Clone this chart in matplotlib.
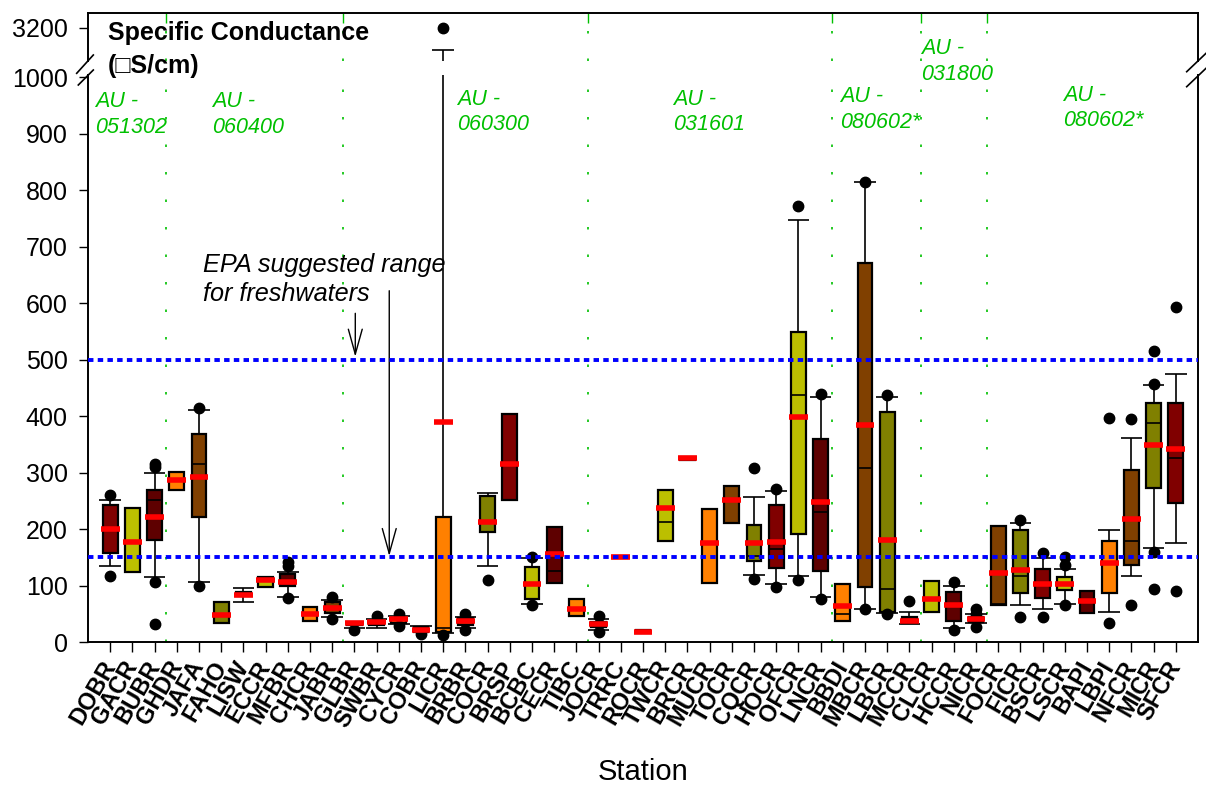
import matplotlib
matplotlib.use('Agg')
import matplotlib.pyplot as plt
from matplotlib.patches import Rectangle
from matplotlib.lines import Line2D

plt.rcParams['font.family'] = ['Liberation Sans', 'DejaVu Sans']

# station order along the x axis
stations = ['DOBR', 'GACR', 'BUBR', 'GHDR', 'JAFA', 'FAHO', 'LISW', 'ECCR', 'MFBR', 'CHCR',
            'JABR', 'GLBR', 'SWBR', 'CYCR', 'COBR', 'LICR', 'BRBR', 'COCR', 'BRSP', 'BCBC',
            'CECR', 'TIBC', 'JOCR', 'TRRC', 'ROCR', 'TWCR', 'BRCR', 'MUCR', 'TOCR', 'CQCR',
            'HOCR', 'OFCR', 'LNCR', 'BBDI', 'MBCR', 'LBCR', 'MCCR', 'CLCR', 'HCCR', 'NICR',
            'FOCR', 'FICR', 'BSCR', 'LSCR', 'BAPI', 'LBPI', 'NFCR', 'MICR', 'SFCR']

# box statistics (uS/cm)
q1 = [158, 124, 180, 270, 221, 34, 81, 97, 99, 37,
      51, 30, 30, 33, 18, 18, 30, 194, 252, 76,
      105, 46, 27, 149, 16, 179, 323, 104, 211, 143,
      131, 191, 125, 37, 97, 53, 33, 54, 37, 36,
      65, 86, 78, 92, 52, 87, 136, 272, 247]
q3 = [242, 237, 269, 301, 369, 71, 88, 115, 120, 62,
      71, 35, 38, 43, 26, 221, 42, 258, 403, 133,
      204, 76, 36, 152, 21, 270, 327, 235, 276, 207,
      243, 549, 360, 102, 671, 407, 44, 108, 89, 45,
      205, 199, 130, 115, 90, 179, 305, 423, 423]
medians = [None, None, 251, None, 315, None, None, None, None, None,
           None, None, None, None, None, 25, None, None, None, None,
           125, None, None, None, None, 212, None, None, None, 152,
           165, 437, 231, 50, 308, 93, None, None, None, None,
           67, 117, None, None, None, None, 178, 388, 325]
means = [200, 177, 222, 287, 292, 48, 84, 109, 107, 50,
         60, 33, 35, 40, 22, 389, 37, 212, 315, 102,
         156, 59, 31, 150, 18, 238, 325, 175, 252, 175,
         177, 398, 248, 63, 385, 180, 38, 77, 66, 41,
         123, 128, 102, 102, 73, 140, 217, 348, 341]
whislo = [134, None, 115, None, 107, None, 71, None, 80, None,
          45, 24, 24, 31, None, 16, 24, 134, None, 67,
          None, None, 21, None, None, None, None, None, None, 119,
          102, 116, 80, None, 59, 52, 31, None, 25, 33,
          None, 65, 59, 67, None, 53, 117, 167, 175]
whishi = [252, None, 299, None, 410, None, 96, None, 124, None,
          75, None, 41, 46, 29, 3100, 45, 264, None, 149,
          None, None, 41, None, None, None, None, None, None, 256,
          268, 747, 434, None, 814, 434, 53, None, 99, 50,
          None, 211, 149, 129, None, 198, 361, 455, 474]
fliers = [[116, 260], [], [32, 106, 310, 316], [], [99, 415], [], [], [], [78, 135, 142], [],
          [41, 79], [21], [46], [28, 50], [14], [13, 3200], [21, 50], [109], [], [66, 151],
          [], [], [18, 46], [], [], [], [], [], [], [112, 308],
          [97, 271], [110, 772], [76, 439], [], [59, 814], [50, 437], [72], [], [21, 106], [27, 50, 59],
          [], [44, 216], [45, 158], [66, 136, 150], [], [33, 397], [66, 394], [93, 159, 457, 515], [90, 593]]

# assessment-unit separators and labels
au_breaks = [3.5, 11.5, 22.5, 33.5, 37.5, 40.5]
au_labels = ['AU -\n051302', 'AU -\n060400', 'AU -\n060300', 'AU -\n031601',
             'AU -\n080602*', 'AU -\n031800', 'AU -\n080602*']
au_x = [0.32, 5.6, 16.63, 26.35, 33.88, 37.52, 43.93]
au_y = [975, 975, 980, 980, 984, 1070, 987]

epa_limits = [150, 500]

box_colors = ['#800000', '#bcbf00', '#5e0000', '#ff8000', '#804000', '#808000']
green = '#00c000'

W, H = 1206, 787
fig = plt.figure(figsize=(W / 100, H / 100), dpi=100)
ax = fig.add_axes([88 / W, (H - 642) / H, 1110 / W, (642 - 75) / H])
ax_top = fig.add_axes([88 / W, (H - 61) / H, 1110 / W, (61 - 13) / H])
ax_top.patch.set_visible(False)

box_w, cap_w, mean_w = 0.66, 0.98, 0.84


def draw_boxes(a):
    for i in range(len(stations)):
        x = i + 1
        if whishi[i] is not None:
            a.vlines(x, q3[i], whishi[i], color='k', lw=1.2, zorder=2)
            a.hlines(whishi[i], x - cap_w / 2, x + cap_w / 2, color='k', lw=1.2, zorder=2)
        if whislo[i] is not None:
            a.vlines(x, whislo[i], q1[i], color='k', lw=1.2, zorder=2)
            a.hlines(whislo[i], x - cap_w / 2, x + cap_w / 2, color='k', lw=1.2, zorder=2)
        a.add_patch(Rectangle((x - box_w / 2, q1[i]), box_w, q3[i] - q1[i],
                              fc=box_colors[i % 6], ec='k', lw=1.6, zorder=3))
        if medians[i] is not None:
            a.hlines(medians[i], x - box_w / 2, x + box_w / 2, color='k', lw=1.2, zorder=3.5)
        if fliers[i]:
            a.plot([x] * len(fliers[i]), fliers[i], 'o', color='k', ms=7.5, zorder=4)
        a.hlines(means[i], x - mean_w / 2, x + mean_w / 2, color='#ff0000', lw=4, zorder=5)


for a in (ax, ax_top):
    draw_boxes(a)
    a.set_xlim(0, 50)
    for s in au_breaks:
        a.axvline(s, color=green, lw=1.2, linestyle=(0, (1.5, 15)), zorder=1)

ax.set_ylim(0, 1004)
ax_top.set_ylim(3050, 3268)
for s in au_breaks:
    ax_top.vlines(s, 3223, 3268, color=green, lw=1, zorder=1)

for v in epa_limits:
    ax.axhline(v, color='#0000ff', lw=2.8, linestyle=(0, (1.4, 1.1)), zorder=6)

# axes styling
for a in (ax, ax_top):
    for sp in a.spines.values():
        sp.set_linewidth(1.4)
ax.spines['top'].set_visible(False)
ax_top.spines['bottom'].set_visible(False)

ax.set_yticks(range(0, 1001, 100))
ax.tick_params(axis='y', labelsize=18, length=6.5, width=1, pad=8)
ax_top.set_yticks([3200])
ax_top.tick_params(axis='y', labelsize=18, length=6.5, width=1, pad=8)
ax_top.set_xticks([])

ax.set_xticks(range(1, len(stations) + 1))
ax.set_xticklabels(stations, rotation=60, ha='right', va='center', rotation_mode='anchor',
                   fontweight='bold', fontsize=17)
ax.tick_params(axis='x', length=7, width=1, pad=8)

ax.set_xlabel('Station', fontsize=21)
ax.xaxis.set_label_coords(0.5, -0.205)

for lab, x, y in zip(au_labels, au_x, au_y):
    ax.text(x, y, lab, color=green, style='italic', fontsize=15.5, va='top', ha='left',
            linespacing=1.3, clip_on=False, zorder=7)

fig.text(108 / W, 1 - 21 / H, 'Specific Conductance\n(\u25a1S/cm)', fontsize=18,
         fontweight='bold', va='top', ha='left', linespacing=1.45)

ax.text(5.19, 688, 'EPA suggested range\nfor freshwaters', style='italic', fontsize=18.2,
        va='top', ha='left', linespacing=1.22)
arrow = dict(arrowstyle='->,head_length=0.9,head_width=0.25', lw=1, color='k',
             mutation_scale=20, shrinkA=0, shrinkB=0)
ax.annotate('', xy=(12.04, 505), xytext=(12.04, 582), arrowprops=arrow)
ax.annotate('', xy=(13.57, 152), xytext=(13.57, 622), arrowprops=arrow)

# axis break marks
for (x0, y0), (x1, y1) in [((76.7, 73.3), (93.3, 55)), ((78.3, 85), (93.3, 70)),
                           ((1186.7, 71.7), (1206, 53.3)), ((1186.7, 86.7), (1206, 68.3))]:
    fig.add_artist(Line2D([x0 / W, x1 / W], [1 - y0 / H, 1 - y1 / H], color='k', lw=1.2))

fig.savefig('out.png', dpi=100)
